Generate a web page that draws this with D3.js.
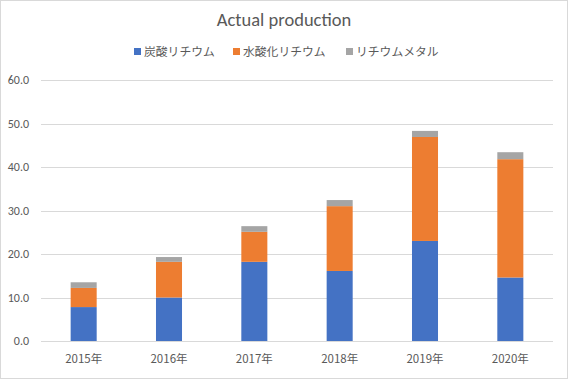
<!DOCTYPE html>
<html>
<head>
<meta charset="utf-8">
<script src="https://cdn.jsdelivr.net/npm/d3@7"></script>
<style>
body { margin: 0; background: #fff; }
text { font-family: Calibri, Carlito, "Liberation Sans", "Noto Sans CJK JP", sans-serif; fill: #595959; }
.jp { font-family: "Noto Sans CJK JP", sans-serif; }
</style>
</head>
<body>
<svg id="chart" width="568" height="379"></svg>
<script>
// data
const years = ["2015年", "2016年", "2017年", "2018年", "2019年", "2020年"];
const carbonate = [7.8, 10.0, 18.2, 16.1, 23.0, 14.6];
const hydroxide = [4.4, 8.2, 6.9, 14.9, 23.9, 27.2];
const metal = [1.3, 1.1, 1.3, 1.4, 1.4, 1.6];
const seriesNames = ["炭酸リチウム", "水酸化リチウム", "リチウムメタル"];
const yTicks = [0, 10, 20, 30, 40, 50, 60];

const colors = ["#4472c4", "#ed7d31", "#a5a5a5"];
const W = 568, H = 379;
const plotLeft = 41, plotRight = 553, plotTop = 80, plotBottom = 341;

const rows = years.map((y, i) => ({year: y, c: carbonate[i], h: hydroxide[i], m: metal[i]}));
const stack = d3.stack().keys(["c", "h", "m"])(rows);

const svg = d3.select("#chart");

// chart border
svg.append("rect")
  .attr("x", 0.5).attr("y", 0.5)
  .attr("width", W - 1).attr("height", H - 1)
  .attr("fill", "#fff").attr("stroke", "#d9d9d9");

const x = d3.scaleBand().domain(years).range([plotLeft, plotRight])
  .paddingInner(0.695).paddingOuter(0.3475);
const y = d3.scaleLinear().domain([0, 60]).range([plotBottom, plotTop]);

// gridlines
svg.append("g").selectAll("line")
  .data(yTicks)
  .join("line")
  .attr("x1", plotLeft).attr("x2", plotRight)
  .attr("y1", d => Math.round(y(d)) + 0.5).attr("y2", d => Math.round(y(d)) + 0.5)
  .attr("stroke", "#d9d9d9").attr("stroke-width", 1);

// y tick labels
svg.append("g").selectAll("text")
  .data(yTicks)
  .join("text")
  .attr("x", 29).attr("y", d => y(d) + 4)
  .attr("text-anchor", "end")
  .attr("font-size", 12)
  .text(d => d.toFixed(1));

// bars
svg.append("g").selectAll("g")
  .data(stack)
  .join("g")
  .attr("fill", (d, i) => colors[i])
  .selectAll("rect")
  .data(d => d)
  .join("rect")
  .attr("x", d => x(d.data.year))
  .attr("width", x.bandwidth())
  .attr("y", d => y(d[1]))
  .attr("height", d => y(d[0]) - y(d[1]));

// x labels
svg.append("g").selectAll("text")
  .data(years)
  .join("text")
  .attr("class", "jp")
  .attr("x", d => x(d) + x.bandwidth() / 2)
  .attr("y", 363)
  .attr("text-anchor", "middle")
  .attr("font-size", 11.5)
  .text(d => d);

// title
svg.append("text")
  .attr("x", W / 2).attr("y", 26)
  .attr("text-anchor", "middle")
  .attr("font-size", 18.5)
  .text("Actual production");

// legend
const legendX = [134, 233, 346];
const lg = svg.append("g").selectAll("g")
  .data(seriesNames)
  .join("g")
  .attr("transform", (d, i) => `translate(${legendX[i]},48)`);
lg.append("rect").attr("width", 7).attr("height", 7).attr("fill", (d, i) => colors[i]);
lg.append("text")
  .attr("class", "jp")
  .attr("x", 10).attr("y", 8)
  .attr("font-size", 11.8)
  .text(d => d);
</script>
</body>
</html>
